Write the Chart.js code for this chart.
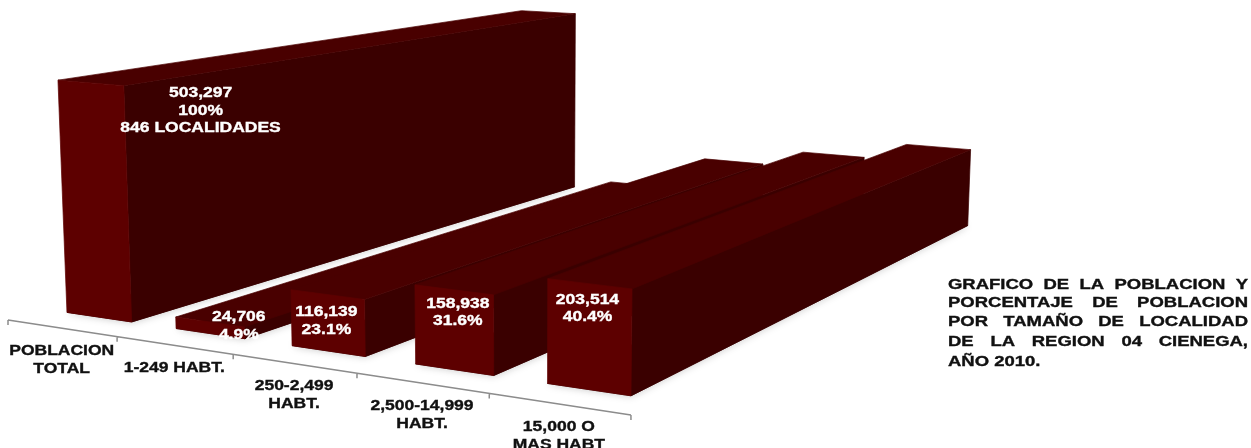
<!DOCTYPE html>
<html>
<head>
<meta charset="utf-8">
<script src="https://cdn.jsdelivr.net/npm/chart.js@4"></script>
<style>
  html, body { margin: 0; padding: 0; background: #fff; overflow: hidden; }
  canvas { display: block; }
</style>
</head>
<body>
<canvas id="chart" width="1251" height="448"></canvas>
<script>
const categories = [
  ['POBLACION', 'TOTAL'],
  ['1-249 HABT.'],
  ['250-2,499', 'HABT.'],
  ['2,500-14,999', 'HABT.'],
  ['15,000 O', 'MAS HABT']
];
const population = [503297, 24706, 116139, 158938, 203514];
const percents = ['100%', '4.9%', '23.1%', '31.6%', '40.4%'];
const titleLines = [
  'GRAFICO DE LA POBLACION Y',
  'PORCENTAJE DE POBLACION',
  'POR TAMAÑO DE LOCALIDAD',
  'DE LA REGION 04 CIENEGA,',
  'AÑO 2010.'
];

// camera: three vanishing points, screen position of the axis start
const VP_X = [-3500, -215], VP_Y = [520, 12000], VP_Z = [1760, -175];
const ORIGIN = [8, 320];
const K_X = -0.1508, K_Y = -0.0236, K_Z = 0.395;
const FRONT_Z = 0.056;

const COLORS = { front: '#5d0000', side: '#3a0000', top: '#490000', axis: '#8c8c8c', text: '#111' };
const FONT = 'bold 14px "Liberation Sans", sans-serif';
const STRETCH = 1.25;
const TITLE_STRETCH = 1.32;

function project(u, v, z) {
  const w = 1 + u * K_X + v * K_Y + z * K_Z;
  return [0, 1].map(i =>
    (ORIGIN[i] + u * K_X * VP_X[i] + v * K_Y * VP_Y[i] + z * K_Z * VP_Z[i]) / w);
}

function poly(ctx, pts, color) {
  ctx.beginPath();
  pts.forEach((p, i) => i ? ctx.lineTo(p[0], p[1]) : ctx.moveTo(p[0], p[1]));
  ctx.closePath();
  ctx.fillStyle = color;
  ctx.strokeStyle = color;
  ctx.lineWidth = 0.7;
  ctx.fill();
  ctx.stroke();
}

function wideText(ctx, str, x, y, color, align = 'center', stretch = STRETCH) {
  ctx.save();
  ctx.font = FONT;
  ctx.fillStyle = color;
  ctx.strokeStyle = color;
  ctx.lineWidth = 0.35;
  ctx.textAlign = align;
  ctx.textBaseline = 'middle';
  ctx.translate(x, y);
  ctx.scale(stretch, 1);
  ctx.fillText(str, 0, 0);
  ctx.strokeText(str, 0, 0);
  ctx.restore();
}

const box3d = {
  id: 'box3d',
  afterDatasetsDraw(chart) {
    const { ctx, chartArea: area, scales } = chart;
    const U = x => (x - area.left) / area.width;
    const V = y => (area.bottom - y) / area.height;
    const bars = chart.getDatasetMeta(0).data;

    // category axis on the ground plane
    const aStart = project(0, 0, 0), aEnd = project(1, 0, 0);
    ctx.save();
    ctx.strokeStyle = COLORS.axis;
    ctx.lineWidth = 1.5;
    ctx.beginPath();
    ctx.moveTo(aStart[0], aStart[1]);
    ctx.lineTo(aEnd[0], aEnd[1]);
    for (let i = 0; i <= categories.length; i++) {
      const p = project(i / categories.length, 0, 0);
      ctx.moveTo(p[0], p[1]);
      ctx.lineTo(p[0], p[1] + 5);
    }
    ctx.stroke();
    ctx.restore();

    categories.forEach((lines, i) => {
      const p = project(U(scales.x.getPixelForValue(i)), 0, 0);
      lines.forEach((t, j) => wideText(ctx, t, p[0], p[1] + 23 + j * 18, COLORS.text));
    });

    // boxes, left to right so each one covers the side of the previous
    bars.forEach(bar => {
      const { x, y, width } = bar.getProps(['x', 'y', 'width'], true);
      const u0 = U(x - width / 2), u1 = U(x + width / 2), v = V(y);
      const fl = project(u0, 0, FRONT_Z), fr = project(u1, 0, FRONT_Z);
      const bl = project(u0, 0, 1), br = project(u1, 0, 1);
      const tfl = project(u0, v, FRONT_Z), tfr = project(u1, v, FRONT_Z);
      const tbl = project(u0, v, 1), tbr = project(u1, v, 1);

      ctx.save();
      ctx.shadowColor = 'rgba(0,0,0,0.22)';
      ctx.shadowBlur = 9;
      poly(ctx, [fl, fr, br, bl], COLORS.side);
      ctx.restore();

      poly(ctx, [fr, br, tbr, tfr], COLORS.side);
      poly(ctx, [tfl, tfr, tbr, tbl], COLORS.top);
      poly(ctx, [fl, fr, tfr, tfl], COLORS.front);
    });

    // value labels sit on the front or side of each box
    const labelShift = [[110, 10.5], [29, -4.5], [-1, 18], [4, 14], [-2, 16]];
    bars.forEach((bar, i) => {
      const { x, y } = bar.getProps(['x', 'y'], true);
      const p = project(U(x), V(y), FRONT_Z);
      const lines = [population[i].toLocaleString('en-US'), percents[i]];
      if (i === 0) lines.push('846 LOCALIDADES');
      lines.forEach((t, j) =>
        wideText(ctx, t, p[0] + labelShift[i][0], p[1] + labelShift[i][1] + j * 17.5, '#fff'));
    });

    // justified note at the right
    const left = 948, right = 1248, tops = [285, 303, 322, 342, 362];
    ctx.save();
    ctx.font = FONT;
    titleLines.forEach((line, i) => {
      const words = line.split(' ');
      const used = words.reduce((s, w) => s + ctx.measureText(w).width * TITLE_STRETCH, 0);
      const last = i === titleLines.length - 1;
      const gap = last ? ctx.measureText(' ').width * TITLE_STRETCH : (right - left - used) / (words.length - 1);
      let cx = left;
      words.forEach(w => {
        wideText(ctx, w, cx, tops[i], COLORS.text, 'left', TITLE_STRETCH);
        cx += ctx.measureText(w).width * TITLE_STRETCH + gap;
      });
    });
    ctx.restore();
  }
};

new Chart(document.getElementById('chart'), {
  type: 'bar',
  data: {
    labels: categories,
    datasets: [{
      data: population,
      backgroundColor: 'transparent',
      barPercentage: 0.6,
      categoryPercentage: 1
    }]
  },
  options: {
    responsive: false,
    animation: false,
    layout: { padding: 0 },
    plugins: { legend: { display: false }, tooltip: { enabled: false }, title: { display: false } },
    scales: {
      x: { display: false },
      y: { display: false, min: 0, max: 600000 }
    }
  },
  plugins: [box3d]
});
</script>
</body>
</html>
